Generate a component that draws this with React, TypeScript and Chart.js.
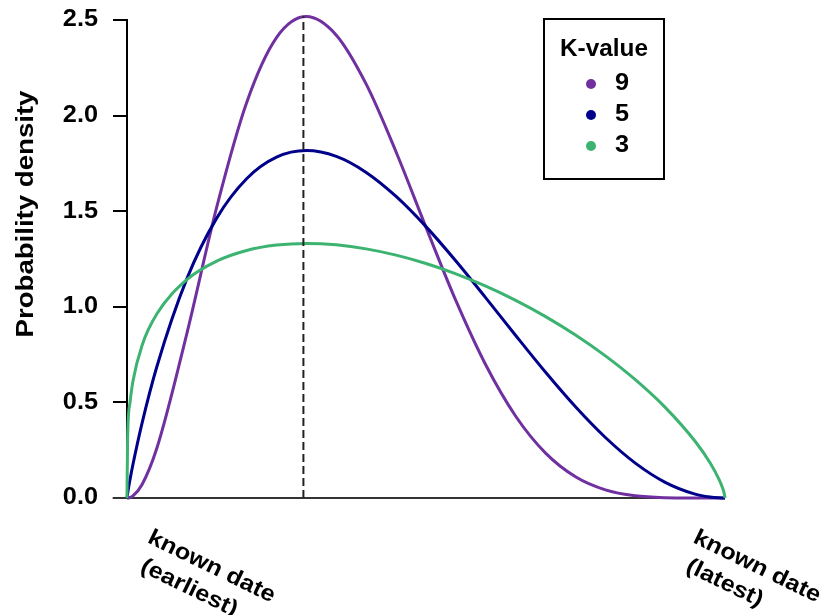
import React, { useEffect, useRef } from "react";
import { Chart, registerables } from "chart.js";

Chart.register(...registerables);

// ---- data ----
const xValues = [0, 0.001, 0.005, 0.01, 0.025, 0.05, 0.1, 0.15, 0.2, 0.25, 0.3, 0.35, 0.4, 0.45, 0.5, 0.55, 0.6, 0.65, 0.7, 0.75, 0.8, 0.85, 0.9, 0.95, 0.975, 0.99, 0.995, 0.999, 1];
const densityK9 = [0, 0, 0.0026, 0.0109, 0.0692, 0.2611, 0.8588, 1.5207, 2.0672, 2.4075, 2.5178, 2.4206, 2.1645, 1.8098, 1.4154, 1.0318, 0.6954, 0.4277, 0.2348, 0.1111, 0.0426, 0.0118, 0.0018, 0.0001, 0, 0, 0, 0, 0];
const densityK5 = [0, 0.0226, 0.0954, 0.1762, 0.3893, 0.6878, 1.1458, 1.4637, 1.6696, 1.7823, 1.8169, 1.7864, 1.7028, 1.5771, 1.4194, 1.2395, 1.0468, 0.8499, 0.6573, 0.4769, 0.3163, 0.1826, 0.082, 0.0201, 0.0048, 0.0007, 0.0002, 0, 0];
const densityK3 = [0, 0.3085, 0.4986, 0.6117, 0.7967, 0.9632, 1.1418, 1.2389, 1.2945, 1.323, 1.3315, 1.324, 1.303, 1.2701, 1.2263, 1.1721, 1.1079, 1.0336, 0.9487, 0.8525, 0.7435, 0.619, 0.4741, 0.2966, 0.184, 0.0974, 0.06, 0.0195, 0];

const seriesLabels = ["9", "5", "3"];
const seriesColors = ["#7030A0", "#00008B", "#3CB371"];

const modeLineX = [0.295, 0.295];
const modeLineY = [0, 2.52];
const baselineX = [-0.024, 1];
const baselineY = [0, 0];

const yMin = 0;
const yMax = 2.5;
const yStep = 0.5;

const xTickLabels = [
  ["known date", "(earliest)"],
  ["known date", "(latest)"],
];
const yTitle = "Probability density";
const legendTitle = "K-value";

const FONT = '"Liberation Sans", Arial, sans-serif';

function toPoints(xs: number[], ys: number[]) {
  return xs.map((x, i) => ({ x, y: ys[i] }));
}

function drawText(
  ctx: CanvasRenderingContext2D,
  text: string,
  x: number,
  y: number,
  size: number,
  stretch: number,
  align: CanvasTextAlign,
  baseline: CanvasTextBaseline,
  angle = 0
) {
  ctx.save();
  ctx.translate(x, y);
  ctx.rotate(angle);
  ctx.scale(stretch, 1);
  ctx.font = `bold ${size}px ${FONT}`;
  ctx.textAlign = align;
  ctx.textBaseline = baseline;
  ctx.fillStyle = "#000";
  ctx.fillText(text, 0, 0);
  ctx.restore();
}

const annotationPlugin = {
  id: "annotations",
  afterDraw(chart: any) {
    const { ctx, chartArea, scales } = chart;
    const ys = scales.y;
    const xs = scales.x;

    // y tick labels
    ys.ticks.forEach((t: any) => {
      drawText(ctx, Number(t.value).toFixed(1), chartArea.left - 29, ys.getPixelForValue(t.value), 23, 1.1, "right", "middle");
    });

    // y title
    drawText(ctx, yTitle, 33, 214, 23, 1.2, "center", "alphabetic", -Math.PI / 2);

    // x labels (rotated clockwise)
    const angle = (26 * Math.PI) / 180;
    const anchors = [
      { x: xs.getPixelForValue(xs.min) + 19.5, y: chartArea.bottom + 44 },
      { x: xs.getPixelForValue(xs.max) - 33, y: chartArea.bottom + 44 },
    ];
    xTickLabels.forEach((lines, i) => {
      const a = anchors[i];
      ctx.save();
      ctx.translate(a.x, a.y);
      ctx.rotate(angle);
      lines.forEach((line, j) => {
        drawText(ctx, line, j * 6, j * 29, 22.5, 1.12, "left", "alphabetic");
      });
      ctx.restore();
    });

    // legend
    const boxW = 120;
    const boxH = 160;
    const bx = chartArea.right - 181;
    const by = chartArea.top - 1;
    ctx.save();
    ctx.strokeStyle = "#000";
    ctx.lineWidth = 2;
    ctx.strokeRect(bx, by, boxW, boxH);
    ctx.restore();
    drawText(ctx, legendTitle, bx + boxW / 2, by + 31, 23, 1.06, "center", "middle");
    const items = chart.data.datasets.filter((d: any) => seriesLabels.includes(d.label));
    items
      .sort((a: any, b: any) => seriesLabels.indexOf(a.label) - seriesLabels.indexOf(b.label))
      .forEach((d: any, i: number) => {
        const cy = by + 65 + i * 31;
        ctx.save();
        ctx.fillStyle = d.borderColor;
        ctx.beginPath();
        ctx.arc(bx + 47, cy, 5, 0, Math.PI * 2);
        ctx.fill();
        ctx.restore();
        drawText(ctx, d.label, bx + 71, cy, 23, 1.1, "left", "middle");
      });
  },
};

export default function App() {
  const canvasRef = useRef<HTMLCanvasElement | null>(null);

  useEffect(() => {
    const canvas = canvasRef.current;
    if (!canvas) return;
    const series = [densityK9, densityK5, densityK3];
    const curveOrder = [2, 1, 0];
    const datasets: any[] = series.map((vals, i) => ({
      label: seriesLabels[i],
      data: toPoints(xValues, vals),
      borderColor: seriesColors[i],
      backgroundColor: seriesColors[i],
      borderWidth: 3,
      pointRadius: 0,
      showLine: true,
      fill: false,
      clip: false,
      cubicInterpolationMode: "monotone",
      order: curveOrder[i],
    }));
    datasets.push({
      label: "mode",
      data: toPoints(modeLineX, modeLineY),
      borderColor: "#222",
      borderWidth: 2,
      borderDash: [8, 4],
      pointRadius: 0,
      showLine: true,
      fill: false,
      clip: false,
      order: -1,
    });
    datasets.push({
      label: "baseline",
      data: toPoints(baselineX, baselineY),
      borderColor: "#333",
      borderWidth: 2,
      pointRadius: 0,
      showLine: true,
      fill: false,
      clip: false,
      order: 5,
    });

    const chart = new Chart(canvas, {
      type: "scatter",
      data: { datasets },
      options: {
        animation: false,
        responsive: false,
        maintainAspectRatio: false,
        layout: { padding: { left: 0, top: 20, right: 99, bottom: 117 } },
        plugins: {
          legend: { display: false },
          tooltip: { enabled: false },
          title: { display: false },
        },
        scales: {
          x: {
            type: "linear",
            min: 0,
            max: 1,
            display: false,
          },
          y: {
            type: "linear",
            min: yMin,
            max: yMax,
            ticks: { stepSize: yStep, display: false },
            grid: {
              drawOnChartArea: false,
              drawTicks: true,
              tickLength: 14,
              color: "#000",
              lineWidth: 2,
            },
            border: { display: true, color: "#000", width: 2 },
            afterFit: (scale: any) => {
              scale.width = 127;
            },
          },
        },
      } as any,
      plugins: [annotationPlugin],
    });
    return () => chart.destroy();
  }, []);

  return (
    <div style={{ position: "absolute", left: 0, top: 0, width: 824, height: 615, background: "#fff" }}>
      <canvas ref={canvasRef} width={824} height={615} />
    </div>
  );
}
